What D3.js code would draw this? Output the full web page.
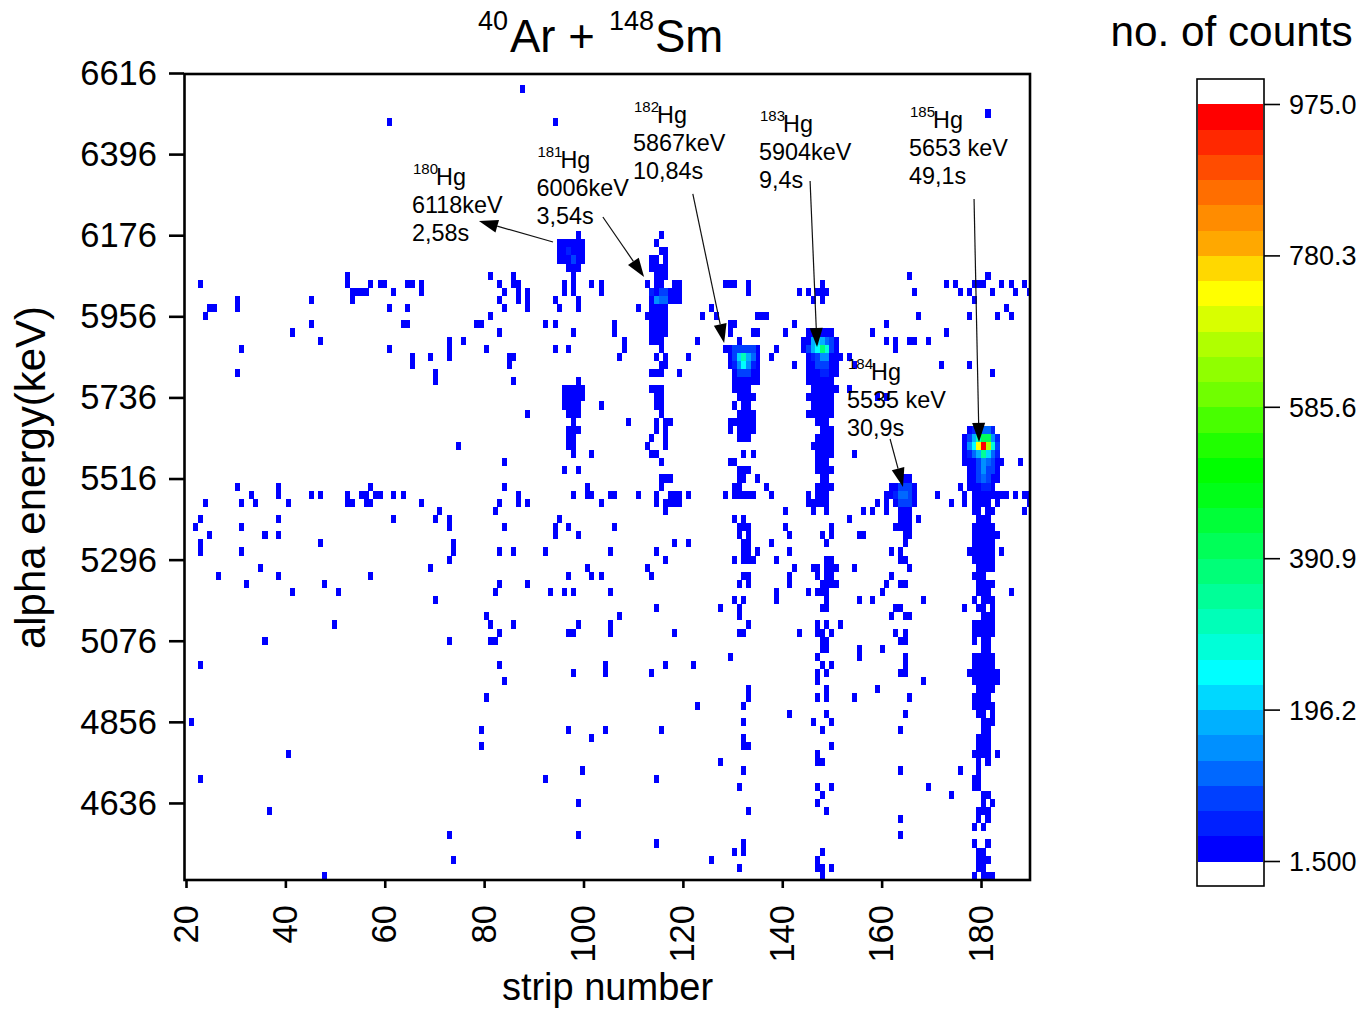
<!DOCTYPE html>
<html>
<head>
<meta charset="utf-8">
<title>40Ar + 148Sm</title>
<style>
  html, body { margin: 0; background: #fff; }
  svg { display: block; }
  text { font-family: "Liberation Sans", Arial, sans-serif; fill: #000; }
  .domain, .tick line { stroke: #000; }
</style>
<script src="https://d3js.org/d3.v7.min.js"></script>
</head>
<body>
<svg id="chart" width="1364" height="1011"></svg>
<script>
// energy bins are 22 keV wide, the lowest one starts at 4427 keV
const energyBinStart = 4427;
const energyBinWidth = 22;
// strip bins are a little narrower than one strip
const stripBinStart = 19.64;
const stripBinWidth = 0.9268;

// occupied strip bins for each energy bin, lowest energy first
const occupiedBins = [
  [30,138,171,173,174,175],
  [120,137,138,140,172,173],
  [58,114,137,172,173,174],
  [119,121,138,172,173],
  [102,121,171,174],
  [57,85,155],
  [171,173],
  [155,172,174],
  [18,122,139,172,173,174],
  [85,137,173,175],
  [138,166,173,174],
  [120,137,140,161,171,172],
  [3,78,102,171,172],
  [86,121,155,168,172],
  [116,137,138,172,174],
  [22,137,171,172,173,174,176],
  [64,121,122,140,172,173,174],
  [88,121,172,173,174],
  [64,83,91,103,138,155,173,174],
  [1,121,136,140,173,174,175],
  [131,139,156,172,173,175],
  [111,121,171,172,173,174,175],
  [65,122,137,139,145,157,171,172,173,174],
  [122,139,150,172,173,174,175],
  [69,137,160,171,172,173,174,175,176],
  [84,91,101,137,139,155,156,170,171,172,173,174,175,176],
  [3,68,91,104,110,138,140,156,171,172,173,174,175],
  [118,137,146,156,171,172,173,174,175],
  [138,139,146,151,173,174],
  [17,57,66,67,138,139,155,156,171,173,174],
  [68,83,84,92,106,120,121,133,137,138,140,154,156,171,172,173,174,175],
  [32,66,71,85,92,122,137,139,142,171,172,173,174,175],
  [65,94,120,153,156,157,173,174,175],
  [102,116,120,138,139,154,155,169,172,173,175],
  [54,119,121,128,139,146,149,160,171,173,174,175],
  [23,33,67,79,82,84,92,128,135,137,138,139,151,172,173,174,179],
  [13,30,68,74,120,122,131,138,139,140,141,152,155,156,172,173,174,175],
  [7,20,40,83,88,90,101,121,122,131,137,139,140,153,171,172,173],
  [16,53,87,100,132,136,137,139,140,141,145,157,172,173,174,175],
  [57,104,119,121,122,123,128,139,140,155,156,171,172,173,174,175],
  [3,12,58,68,71,78,92,102,121,122,124,131,153,155,170,171,172,173,174,175,177],
  [3,29,58,106,109,121,122,127,139,156,171,172,173,174,175],
  [5,17,20,80,85,120,122,131,138,140,146,147,156,157,171,172,173,174,175,176],
  [2,12,57,69,80,83,93,120,121,122,130,140,154,155,156,157,171,172,173,174,175],
  [3,20,45,54,57,81,119,121,144,155,156,157,159,172,173,174],
  [55,67,104,130,136,139,147,149,152,155,156,157,171,172,174,175,182],
  [4,12,15,22,35,36,39,40,51,68,72,74,90,102,104,105,106,107,135,136,137,138,139,150,152,154,155,156,157,158,166,169,171,172,173,174,176,183],
  [14,20,27,29,35,38,39,41,42,45,47,72,84,87,88,92,93,98,102,105,106,107,109,117,119,120,121,122,123,127,135,137,138,139,152,153,154,155,156,157,158,163,169,171,172,173,174,175,176,177,178,180,182,183],
  [11,20,40,69,87,103,119,120,126,137,138,139,140,153,154,155,156,157,158,168,170,171,172,173,174,175],
  [103,104,105,120,121,124,138,139,156,157,170,171,172,173,174,175,176],
  [82,85,120,121,122,137,138,139,140,170,171,172,173,174,175,176],
  [69,103,118,119,137,138,139,169,170,171,172,173,174,175,176,177,181],
  [84,88,101,102,121,123,137,138,139,140,145,169,170,171,172,173,174,175,176],
  [59,83,84,100,104,136,137,138,139,140,169,170,171,172,173,174,175,176],
  [83,84,101,104,120,121,122,137,138,139,140,169,170,171,172,173,174,175,176],
  [83,84,85,102,104,118,120,121,122,123,138,139,140,170,171,172,173,174,175],
  [84,96,102,104,105,118,119,120,121,122,123,137,138,139],
  [74,83,84,85,103,120,121,122,123,135,136,137,138,139,140],
  [82,83,84,85,90,102,103,119,121,122,136,137,138,139,140],
  [82,83,84,85,86,102,103,120,121,122,123,135,136,137,138,139,140,150,152],
  [82,83,84,85,86,101,102,103,119,120,121,122,136,137,138,139,140,141,144],
  [54,71,85,119,120,121,122,123,124,135,136,137,138,139,140],
  [11,54,101,102,103,107,119,120,121,122,123,124,135,136,137,138,139,140,141,175],
  [49,70,103,104,118,119,120,121,122,123,124,132,135,136,137,138,139,140,141,145,164,170],
  [49,53,57,70,71,94,102,104,109,118,119,120,121,122,123,124,127,135,136,137,138,139,140,141,142,144],
  [12,44,57,65,80,83,95,103,117,118,119,120,121,122,123,124,128,134,135,136,137,138,139,140,141,154],
  [29,57,60,95,101,102,103,111,120,134,135,136,137,138,139,140,141,152,154,157,158,161],
  [23,68,84,93,101,102,103,104,118,123,124,130,135,136,137,138,139,140,149,165],
  [27,47,48,63,64,78,80,93,101,102,103,104,118,119,132,152],
  [4,66,100,101,102,103,104,112,115,124,125,126,159,170,176,179],
  [5,6,11,44,48,69,74,81,85,98,101,102,103,104,114,178],
  [11,27,36,68,72,74,80,85,101,102,103,104,105,106,107,136,138,171],
  [36,37,38,39,45,51,69,72,74,82,84,90,101,102,103,104,105,106,107,122,133,135,137,138,139,158,168,170,175,180,183],
  [3,35,40,42,43,48,49,51,68,71,72,82,84,88,90,100,102,103,106,107,117,118,119,122,138,165,167,171,172,173,177,179,182],
  [35,66,71,84,102,103,104,157,174],
  [83,84,85,101,102,103,104],
  [81,82,83,84,85,86,101,102,104],
  [81,82,83,84,85,86,103,104],
  [81,82,83,84,85,86,102],
  [85,103],
  [], [], [], [], [], [], [], [], [], [], [], [], [],
  [44,80],
  [174],
  [], [],
  [73]
];
// everything not listed below sits in the lowest colour band
const lowCount = 15;

// cells with more counts, around the six Hg peaks
const hotStripBin = [
  83,84, 101,103,104,102,103,104,
  119,120,121,122,123,119,120,121,122,123,119,120,121,122,123,120,121,122,
  136,137,138,139,140,135,136,137,138,139,140,136,137,138,139,137,138,139,138,139,
  154,155,156,157,155,156,157,155,156,157,
  170,171,172,173,174,175,176,170,171,172,173,174,175,176,171,172,173,174,175,170,171,172,173,174,175,176,172,173,174,175,172,173,174,175,172,173,174,173,174
];
const hotEnergyBin = [
  77,76, 72,72,72,71,71,71,
  65,65,65,65,65,64,64,64,64,64,63,63,63,63,63,62,62,62,
  66,66,66,66,66,65,65,65,65,65,65,64,64,64,64,63,63,63,62,62,
  47,47,47,47,46,46,46,48,48,48,
  53,53,53,53,53,53,53,54,54,54,54,54,54,54,55,55,55,55,55,52,52,52,52,52,52,52,51,51,51,51,50,50,50,50,49,49,49,48,48
];
const hotCount = [
  50,83, 50,83,83,148,115,115,
  83,83,83,83,83,83,212,310,180,115,50,148,245,148,50,83,83,83,
  180,212,180,115,83,83,180,245,375,277,83,50,83,148,148,83,83,83,50,50,
  50,115,115,83,83,83,83,83,83,83,
  148,245,732,958,667,277,83,83,180,310,407,407,148,50,50,83,115,115,50,50,115,180,342,212,115,50,83,148,115,83,83,148,83,83,83,115,83,50,50
];

const colorBands = [
  "#0000ff","#0020ff","#0040ff","#0068ff","#0090ff","#00b0ff","#00d8ff","#00ffff",
  "#00ffd8","#00ffb8","#00ff98","#00ff78","#00ff58","#00ff38","#00ff18","#00ff00",
  "#20ff00","#48ff00","#70ff00","#90ff00","#b0ff00","#d8ff00","#ffff00","#ffd800",
  "#ffa800","#ff8c00","#ff6e00","#ff4c00","#ff2800","#ff0000"
];
const colorTicks = [1.5, 196.2, 390.9, 585.6, 780.3, 975];
const colorTickLabels = ["1.500", "196.2", "390.9", "585.6", "780.3", "975.0"];
const stripTicks = [20, 40, 60, 80, 100, 120, 140, 160, 180];
const energyTicks = [6616, 6396, 6176, 5956, 5736, 5516, 5296, 5076, 4856, 4636];

// peak labels and their arrows, arrow ends are [strip, keV]
const isotopes = ["180", "181", "182", "183", "184", "185"];
const isotopeEnergies = ["6118keV", "6006keV", "5867keV", "5904keV", "5535 keV", "5653 keV"];
const isotopeHalfLives = ["2,58s", "3,54s", "10,84s", "9,4s", "30,9s", "49,1s"];
const arrowTails = [[93.86, 6157.6], [103.9, 6225.4], [122.0, 6287.8], [145.6, 6323.1], [161.7, 5623.3], [178.6, 6274.3]];
const arrowTips = [[78.96, 6214.6], [112.2, 6062.7], [128.3, 5883.7], [147.0, 5872.8], [164.3, 5493.1], [179.6, 5615.2]];
const labelLeft = [412, 536.4, 633, 759, 847, 909];
const labelBaseline = [185, 168, 123, 132, 380, 128];

const svg = d3.select("#chart");

const x = d3.scaleLinear().domain([20, 190]).range([186, 1030.7]);
const y = d3.scaleLinear().domain([4427, 6616]).range([880, 73]);
const color = d3.scaleQuantize().domain([1.5, 975]).range(colorBands);

const cells = [];
occupiedBins.forEach((bins, row) => {
  bins.forEach(bin => cells.push({ bin: bin, row: row, count: lowCount }));
});
hotStripBin.forEach((bin, i) => {
  const cell = cells.find(c => c.bin === bin && c.row === hotEnergyBin[i]);
  if (cell) cell.count = hotCount[i];
  else cells.push({ bin: bin, row: hotEnergyBin[i], count: hotCount[i] });
});

svg.append("defs").append("clipPath").attr("id", "plot-clip")
  .append("rect")
  .attr("x", 185).attr("y", 74).attr("width", 845).attr("height", 806);

// hot cells are drawn last so a wider neighbour never paints over them
cells.sort((a, b) => a.count - b.count);

svg.append("g")
  .attr("clip-path", "url(#plot-clip)")
  .attr("shape-rendering", "crispEdges")
  .selectAll("rect")
  .data(cells)
  .enter()
  .append("rect")
  .attr("x", d => x(stripBinStart + d.bin * stripBinWidth))
  .attr("y", d => y(energyBinStart + (d.row + 1) * energyBinWidth))
  .attr("width", d => x(stripBinStart + (d.bin + 1) * stripBinWidth) - x(stripBinStart + d.bin * stripBinWidth) + 0.4)
  .attr("height", d => y(energyBinStart + d.row * energyBinWidth) - y(energyBinStart + (d.row + 1) * energyBinWidth))
  .attr("fill", d => color(d.count));

// frame
svg.append("rect")
  .attr("x", 184.5).attr("y", 74).attr("width", 845.5).attr("height", 806)
  .attr("fill", "none").attr("stroke", "#000").attr("stroke-width", 2.6);

const xAxis = svg.append("g")
  .attr("transform", "translate(0,880)")
  .call(d3.axisBottom(x).tickValues(stripTicks).tickFormat(d3.format("d")).tickSize(8).tickSizeOuter(0));
xAxis.select(".domain").remove();
xAxis.selectAll(".tick line").attr("stroke-width", 2.6);
xAxis.selectAll("text")
  .attr("font-size", 34.5)
  .attr("text-anchor", "end")
  .attr("transform", "rotate(-90)")
  .attr("x", -25)
  .attr("y", 0)
  .attr("dy", "0.32em");

const yAxis = svg.append("g")
  .attr("transform", "translate(184,0)")
  .call(d3.axisLeft(y).tickValues(energyTicks).tickFormat(d3.format("d")).tickSize(15).tickSizeOuter(0));
yAxis.select(".domain").remove();
yAxis.selectAll(".tick line").attr("stroke-width", 2.6);
yAxis.selectAll("text")
  .attr("font-size", 34.5)
  .attr("x", -27)
  .attr("dy", "0.33em");

// titles
svg.append("text").attr("x", 478).attr("y", 30).attr("font-size", 27).text("40");
svg.append("text").attr("x", 510).attr("y", 52).attr("font-size", 45.5).text("Ar +");
svg.append("text").attr("x", 609).attr("y", 30).attr("font-size", 27).text("148");
svg.append("text").attr("x", 655).attr("y", 52).attr("font-size", 45.5).text("Sm");
svg.append("text").attr("x", 607.5).attr("y", 1000).attr("text-anchor", "middle").attr("font-size", 38).text("strip number");
svg.append("text")
  .attr("transform", "translate(45,477.5) rotate(-90)")
  .attr("text-anchor", "middle")
  .attr("font-size", 42)
  .text("alpha energy(keV)");
svg.append("text").attr("x", 1231.5).attr("y", 46).attr("text-anchor", "middle").attr("font-size", 42.3).text("no. of counts");

// peak labels
isotopes.forEach((mass, i) => {
  const g = svg.append("g").attr("transform", "translate(" + labelLeft[i] + "," + labelBaseline[i] + ")");
  g.append("text").attr("x", 1).attr("y", -11).attr("font-size", 15).attr("fill", "#222").text(mass);
  g.append("text").attr("x", 24).attr("y", 0).attr("font-size", 23.4).attr("fill", "#222").text("Hg");
  g.append("text").attr("x", 0).attr("y", 27.5).attr("font-size", 23.4).attr("fill", "#222").text(isotopeEnergies[i]);
  g.append("text").attr("x", 0).attr("y", 55.5).attr("font-size", 23.4).attr("fill", "#222").text(isotopeHalfLives[i]);
});

// arrows
const arrowLength = 19;
const arrowHalfWidth = 6.5;
isotopes.forEach((mass, i) => {
  const x0 = x(arrowTails[i][0]), y0 = y(arrowTails[i][1]);
  const x1 = x(arrowTips[i][0]), y1 = y(arrowTips[i][1]);
  const len = Math.hypot(x1 - x0, y1 - y0);
  const ux = (x1 - x0) / len, uy = (y1 - y0) / len;
  const bx = x1 - ux * arrowLength, by = y1 - uy * arrowLength;
  svg.append("line")
    .attr("x1", x0).attr("y1", y0).attr("x2", bx).attr("y2", by)
    .attr("stroke", "#111").attr("stroke-width", 1.2);
  svg.append("polygon")
    .attr("points", [
      [x1, y1],
      [bx - uy * arrowHalfWidth, by + ux * arrowHalfWidth],
      [bx + uy * arrowHalfWidth, by - ux * arrowHalfWidth]
    ].map(p => p.join(",")).join(" "))
    .attr("fill", "#000");
});

// colour legend
const legendScale = d3.scaleLinear().domain([1.5, 975]).range([861, 104]);
const bandWidth = (975 - 1.5) / colorBands.length;
svg.append("g")
  .attr("shape-rendering", "crispEdges")
  .selectAll("rect")
  .data(colorBands)
  .enter()
  .append("rect")
  .attr("x", 1198)
  .attr("width", 65)
  .attr("y", (d, i) => legendScale(1.5 + (i + 1) * bandWidth))
  .attr("height", legendScale(1.5) - legendScale(1.5 + bandWidth) + 0.5)
  .attr("fill", d => d);
svg.append("rect")
  .attr("x", 1197).attr("y", 79).attr("width", 67).attr("height", 807)
  .attr("fill", "none").attr("stroke", "#000").attr("stroke-width", 1.6);
const legendAxis = svg.append("g")
  .attr("transform", "translate(1264,0)")
  .call(d3.axisRight(legendScale).tickValues(colorTicks).tickFormat((d, i) => colorTickLabels[i]).tickSize(16).tickSizeOuter(0));
legendAxis.select(".domain").remove();
legendAxis.selectAll(".tick line").attr("stroke-width", 1.6);
legendAxis.selectAll("text")
  .attr("font-size", 27)
  .attr("x", 25)
  .attr("dy", "0.35em");
</script>
</body>
</html>
